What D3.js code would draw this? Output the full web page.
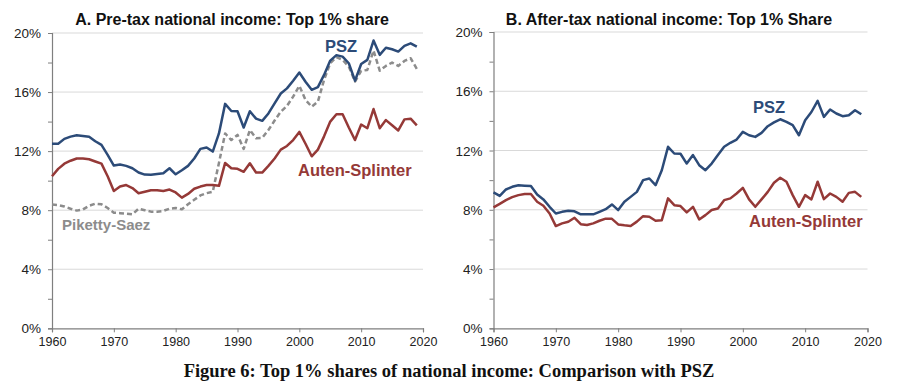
<!DOCTYPE html>
<html><head><meta charset="utf-8">
<script src="https://cdn.jsdelivr.net/npm/d3@7"></script>
<style>body{margin:0;background:#fff}svg{display:block}</style>
</head><body>
<svg id="c" width="898" height="383"></svg>
<script>
const years = d3.range(1960, 2020);
const yTicks = [0, 4, 8, 12, 16, 20];
const xTicks = [1960, 1970, 1980, 1990, 2000, 2010, 2020];

const preTaxPSZ = [12.5,12.5,12.83,12.98,13.07,13.03,12.98,12.67,12.42,11.74,11.02,11.09,11.0,10.84,10.55,10.41,10.4,10.45,10.5,10.84,10.43,10.7,11.0,11.5,12.15,12.25,11.97,13.2,15.2,14.72,14.7,13.6,14.7,14.2,14.05,14.55,15.24,15.9,16.25,16.77,17.32,16.7,16.15,16.33,17.16,18.13,18.5,18.4,17.95,16.77,17.9,18.18,19.49,18.52,19.0,18.9,18.74,19.13,19.3,19.08];
const preTaxPS = [8.38,8.35,8.25,8.1,7.97,8.05,8.3,8.44,8.4,8.15,7.83,7.8,7.77,7.72,8.1,8.0,7.9,7.9,7.95,8.1,8.15,8.06,8.4,8.7,9.0,9.15,9.25,11.2,13.2,12.75,13.1,12.15,13.43,12.87,12.9,13.43,14.07,14.67,15.06,15.69,16.42,15.47,15.01,15.35,16.82,17.95,18.36,18.18,17.73,16.71,17.43,17.5,18.81,17.45,17.77,18.0,17.77,18.11,18.29,17.57];
const preTaxAS = [10.3,10.8,11.15,11.35,11.5,11.5,11.45,11.3,11.15,10.3,9.3,9.6,9.7,9.5,9.15,9.25,9.35,9.35,9.3,9.4,9.2,8.85,9.1,9.45,9.6,9.7,9.7,9.65,11.2,10.84,10.8,10.6,11.18,10.55,10.55,11.0,11.5,12.1,12.35,12.75,13.3,12.5,11.65,12.1,13.0,14.0,14.5,14.5,13.6,12.75,13.8,13.55,14.85,13.55,14.1,13.75,13.4,14.15,14.2,13.75];

const afterTaxPSZ = [9.17,8.94,9.37,9.55,9.66,9.63,9.6,9.03,8.7,8.2,7.75,7.86,7.93,7.9,7.69,7.69,7.69,7.86,8.04,8.36,7.98,8.54,8.87,9.21,10.0,10.11,9.66,10.67,12.25,11.8,11.78,11.12,11.69,11.01,10.67,11.12,11.69,12.25,12.52,12.74,13.26,13.03,12.92,13.19,13.64,13.9,14.11,13.93,13.71,13.03,14.05,14.6,15.35,14.27,14.77,14.5,14.32,14.38,14.72,14.45];
const afterTaxAS = [8.16,8.4,8.65,8.85,8.99,9.06,9.06,8.54,8.27,7.75,6.9,7.08,7.19,7.46,7.03,6.97,7.08,7.26,7.4,7.39,7.01,6.95,6.9,7.2,7.57,7.53,7.26,7.3,8.77,8.31,8.25,7.82,8.2,7.35,7.64,7.98,8.09,8.65,8.77,9.1,9.48,8.7,8.2,8.7,9.21,9.82,10.16,9.89,8.99,8.2,8.99,8.7,9.89,8.72,9.1,8.87,8.54,9.14,9.21,8.87];

const BLUE = "#2c4b78", RED = "#953937", GREY = "#8c8c8c";
const FONT = "Liberation Sans, Arial, sans-serif";
const svg = d3.select("#c");

function panel(cfg) {
  const x = d3.scaleLinear().domain([1960, 2020]).range([cfg.x0, cfg.x1]);
  const y = d3.scaleLinear().domain([0, 20]).range([328.3, cfg.yTop]);
  const g = svg.append("g");
  g.selectAll("line.grid").data(yTicks.filter(d => d > 0)).join("line")
    .attr("x1", cfg.x0).attr("x2", cfg.x1)
    .attr("y1", d => y(d)).attr("y2", d => y(d))
    .attr("stroke", "#d9d9d9").attr("stroke-width", 1);
  const ya = g.append("g").attr("transform", `translate(${cfg.x0},0)`)
    .call(d3.axisLeft(y).tickValues(d3.range(0, 21, 2)).tickSize(4).tickFormat(""));
  ya.select(".domain").attr("stroke", "#7f7f7f").attr("stroke-width", 1.2);
  ya.selectAll(".tick line").attr("stroke", "#7f7f7f");
  g.selectAll("text.ylab").data(yTicks).join("text")
    .attr("x", cfg.x0 - 11).attr("y", d => y(d) + 5)
    .attr("text-anchor", "end").attr("font-family", FONT)
    .attr("font-size", 13.5).attr("fill", "#222").text(d => d + "%");
  const xa = g.append("g").attr("transform", `translate(0,${y(0)})`)
    .call(d3.axisBottom(x).tickValues(xTicks).tickSize(4).tickFormat(d3.format("d")));
  xa.select(".domain").attr("stroke", "#7f7f7f").attr("stroke-width", 1.2);
  xa.selectAll(".tick line").attr("stroke", "#7f7f7f");
  xa.selectAll(".tick text").attr("font-family", FONT)
    .attr("font-size", 12.5).attr("fill", "#222").attr("dy", "0.85em");
  const line = d3.line().x((d, i) => x(years[i])).y(d => y(d));
  cfg.series.forEach(s => {
    g.append("path").datum(s.values).attr("d", line)
      .attr("fill", "none").attr("stroke", s.color).attr("stroke-width", 2.5)
      .attr("stroke-linejoin", "round")
      .attr("stroke-dasharray", s.dash || null);
  });
  cfg.labels.forEach(l => {
    g.append("text").attr("x", l.x).attr("y", l.y)
      .attr("font-family", FONT).attr("font-weight", "bold")
      .attr("font-size", l.size).attr("fill", l.color).text(l.text);
  });
  g.append("text").attr("x", cfg.titleX).attr("y", 25).attr("text-anchor", "middle")
    .attr("font-family", FONT).attr("font-weight", "bold")
    .attr("font-size", 16).attr("fill", "#111").text(cfg.title);
}

panel({
  x0: 52, x1: 423, yTop: 33,
  title: "A. Pre-tax national income: Top 1% share", titleX: 232,
  series: [
    {values: preTaxPS, color: GREY, dash: "5,3"},
    {values: preTaxAS, color: RED},
    {values: preTaxPSZ, color: BLUE}
  ],
  labels: [
    {text: "PSZ", x: 325, y: 52, color: BLUE, size: 16.5},
    {text: "Auten-Splinter", x: 298, y: 176, color: RED, size: 16.5},
    {text: "Piketty-Saez", x: 62, y: 230, color: GREY, size: 15}
  ]
});
panel({
  x0: 493.5, x1: 867.5, yTop: 32,
  title: "B. After-tax national income: Top 1% Share", titleX: 669,
  series: [
    {values: afterTaxAS, color: RED},
    {values: afterTaxPSZ, color: BLUE}
  ],
  labels: [
    {text: "PSZ", x: 753, y: 113, color: BLUE, size: 16.5},
    {text: "Auten-Splinter", x: 749, y: 227, color: RED, size: 16.5}
  ]
});

svg.append("text").attr("x", 449).attr("y", 377).attr("text-anchor", "middle")
  .attr("font-family", "Liberation Serif, Times New Roman, serif").attr("font-weight", "bold")
  .attr("font-size", 18.5).attr("fill", "#111")
  .text("Figure 6: Top 1% shares of national income: Comparison with PSZ");
</script>
</body></html>
